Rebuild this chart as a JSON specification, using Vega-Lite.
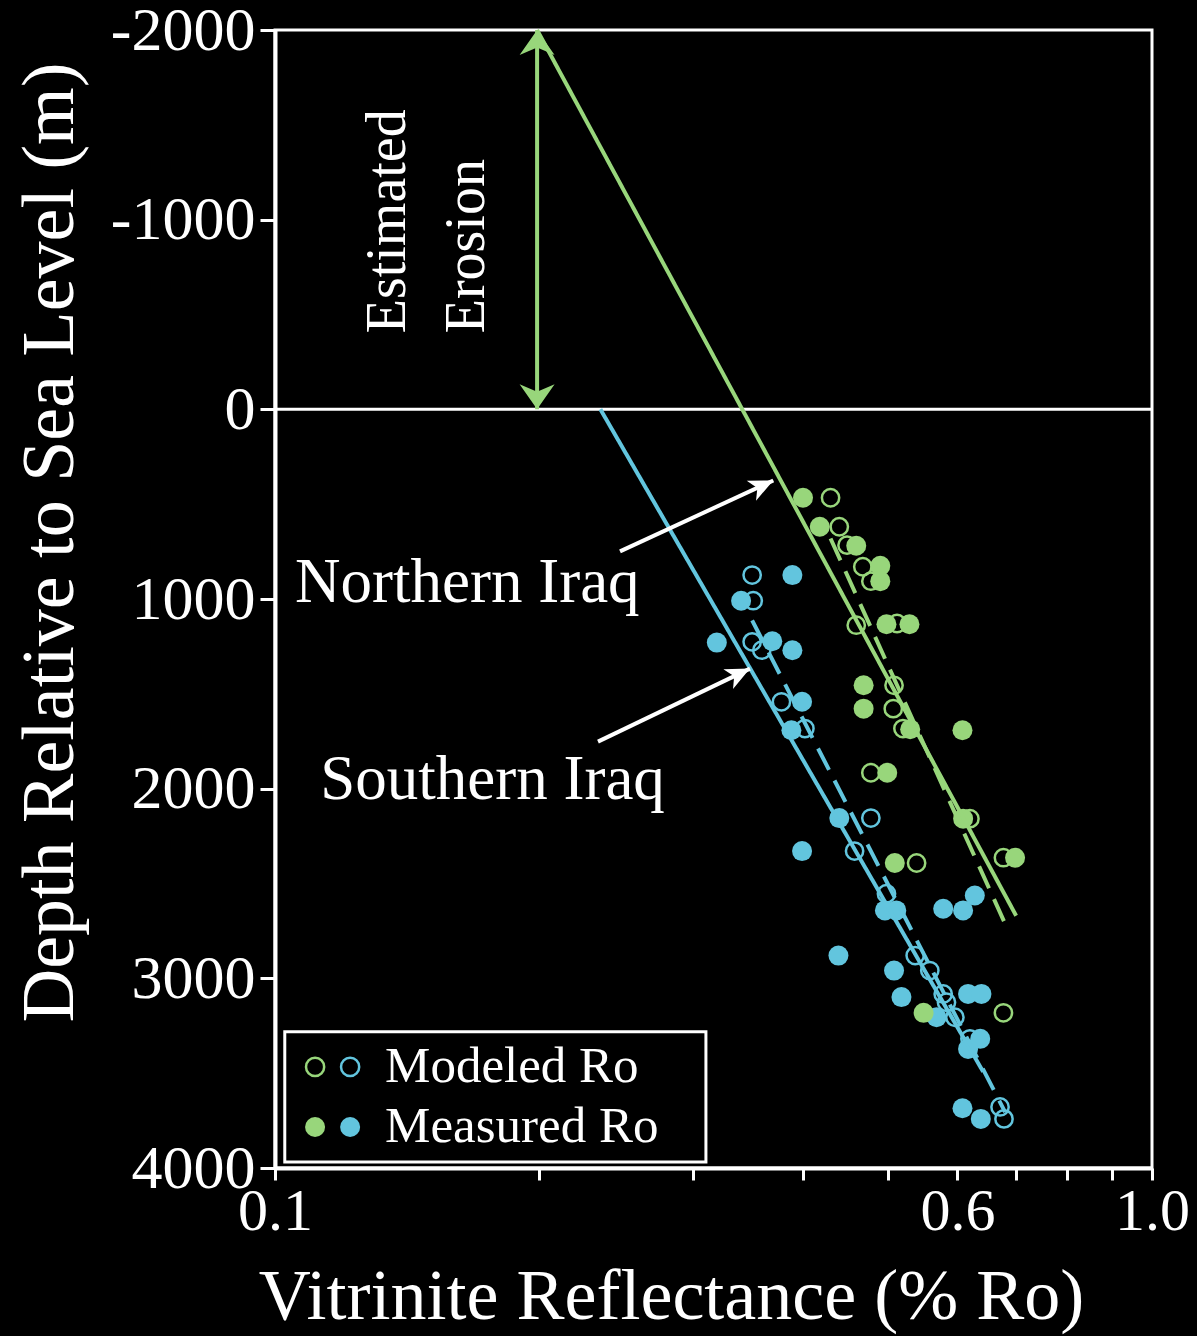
{
  "$schema": "https://vega.github.io/schema/vega-lite/v6.json",
  "width": 877,
  "height": 1138,
  "autosize": "none",
  "padding": {"left": 275, "top": 30, "right": 45, "bottom": 168},
  "background": "black",
  "config": {
    "view": {"stroke": "white", "strokeWidth": 3},
    "font": "Liberation Serif"
  },
  "datasets": {
    "points": [
      {"region": "Southern", "type": "Modeled", "ro": 0.350, "depth": 874},
      {"region": "Southern", "type": "Modeled", "ro": 0.351, "depth": 1009},
      {"region": "Southern", "type": "Modeled", "ro": 0.350, "depth": 1226},
      {"region": "Southern", "type": "Modeled", "ro": 0.359, "depth": 1270},
      {"region": "Southern", "type": "Modeled", "ro": 0.378, "depth": 1542},
      {"region": "Southern", "type": "Modeled", "ro": 0.402, "depth": 1683},
      {"region": "Southern", "type": "Modeled", "ro": 0.478, "depth": 2155},
      {"region": "Southern", "type": "Modeled", "ro": 0.458, "depth": 2329},
      {"region": "Southern", "type": "Modeled", "ro": 0.498, "depth": 2554},
      {"region": "Southern", "type": "Modeled", "ro": 0.537, "depth": 2880},
      {"region": "Southern", "type": "Modeled", "ro": 0.558, "depth": 2959},
      {"region": "Southern", "type": "Modeled", "ro": 0.578, "depth": 3082},
      {"region": "Southern", "type": "Modeled", "ro": 0.583, "depth": 3126},
      {"region": "Southern", "type": "Modeled", "ro": 0.596, "depth": 3205},
      {"region": "Southern", "type": "Modeled", "ro": 0.620, "depth": 3319},
      {"region": "Southern", "type": "Modeled", "ro": 0.671, "depth": 3678},
      {"region": "Southern", "type": "Modeled", "ro": 0.678, "depth": 3741},
      {"region": "Northern", "type": "Modeled", "ro": 0.430, "depth": 466},
      {"region": "Northern", "type": "Modeled", "ro": 0.440, "depth": 619},
      {"region": "Northern", "type": "Modeled", "ro": 0.449, "depth": 716},
      {"region": "Northern", "type": "Modeled", "ro": 0.468, "depth": 830},
      {"region": "Northern", "type": "Modeled", "ro": 0.478, "depth": 906},
      {"region": "Northern", "type": "Modeled", "ro": 0.460, "depth": 1138},
      {"region": "Northern", "type": "Modeled", "ro": 0.512, "depth": 1129},
      {"region": "Northern", "type": "Modeled", "ro": 0.508, "depth": 1455},
      {"region": "Northern", "type": "Modeled", "ro": 0.507, "depth": 1578},
      {"region": "Northern", "type": "Modeled", "ro": 0.520, "depth": 1683},
      {"region": "Northern", "type": "Modeled", "ro": 0.478, "depth": 1916},
      {"region": "Northern", "type": "Modeled", "ro": 0.620, "depth": 2158},
      {"region": "Northern", "type": "Modeled", "ro": 0.677, "depth": 2364},
      {"region": "Northern", "type": "Modeled", "ro": 0.539, "depth": 2392},
      {"region": "Northern", "type": "Modeled", "ro": 0.677, "depth": 3182},
      {"region": "Southern", "type": "Measured", "ro": 0.389, "depth": 874},
      {"region": "Southern", "type": "Measured", "ro": 0.340, "depth": 1009},
      {"region": "Southern", "type": "Measured", "ro": 0.319, "depth": 1230},
      {"region": "Southern", "type": "Measured", "ro": 0.369, "depth": 1223},
      {"region": "Southern", "type": "Measured", "ro": 0.389, "depth": 1270},
      {"region": "Southern", "type": "Measured", "ro": 0.399, "depth": 1542},
      {"region": "Southern", "type": "Measured", "ro": 0.388, "depth": 1692},
      {"region": "Southern", "type": "Measured", "ro": 0.440, "depth": 2155},
      {"region": "Southern", "type": "Measured", "ro": 0.399, "depth": 2329},
      {"region": "Southern", "type": "Measured", "ro": 0.496, "depth": 2642},
      {"region": "Southern", "type": "Measured", "ro": 0.511, "depth": 2642},
      {"region": "Southern", "type": "Measured", "ro": 0.578, "depth": 2633},
      {"region": "Southern", "type": "Measured", "ro": 0.609, "depth": 2642},
      {"region": "Southern", "type": "Measured", "ro": 0.628, "depth": 2563},
      {"region": "Southern", "type": "Measured", "ro": 0.439, "depth": 2880},
      {"region": "Southern", "type": "Measured", "ro": 0.508, "depth": 2959},
      {"region": "Southern", "type": "Measured", "ro": 0.518, "depth": 3099},
      {"region": "Southern", "type": "Measured", "ro": 0.568, "depth": 3205},
      {"region": "Southern", "type": "Measured", "ro": 0.617, "depth": 3082},
      {"region": "Southern", "type": "Measured", "ro": 0.639, "depth": 3082},
      {"region": "Southern", "type": "Measured", "ro": 0.637, "depth": 3319},
      {"region": "Southern", "type": "Measured", "ro": 0.617, "depth": 3372},
      {"region": "Southern", "type": "Measured", "ro": 0.608, "depth": 3685},
      {"region": "Southern", "type": "Measured", "ro": 0.638, "depth": 3741},
      {"region": "Northern", "type": "Measured", "ro": 0.400, "depth": 466},
      {"region": "Northern", "type": "Measured", "ro": 0.418, "depth": 619},
      {"region": "Northern", "type": "Measured", "ro": 0.460, "depth": 719},
      {"region": "Northern", "type": "Measured", "ro": 0.490, "depth": 825},
      {"region": "Northern", "type": "Measured", "ro": 0.490, "depth": 906},
      {"region": "Northern", "type": "Measured", "ro": 0.498, "depth": 1133},
      {"region": "Northern", "type": "Measured", "ro": 0.529, "depth": 1133},
      {"region": "Northern", "type": "Measured", "ro": 0.469, "depth": 1455},
      {"region": "Northern", "type": "Measured", "ro": 0.469, "depth": 1578},
      {"region": "Northern", "type": "Measured", "ro": 0.530, "depth": 1687},
      {"region": "Northern", "type": "Measured", "ro": 0.608, "depth": 1692},
      {"region": "Northern", "type": "Measured", "ro": 0.499, "depth": 1916},
      {"region": "Northern", "type": "Measured", "ro": 0.609, "depth": 2158},
      {"region": "Northern", "type": "Measured", "ro": 0.698, "depth": 2364},
      {"region": "Northern", "type": "Measured", "ro": 0.509, "depth": 2392},
      {"region": "Northern", "type": "Measured", "ro": 0.549, "depth": 3182}
    ],
    "trends": [
      {"series": "N solid", "region": "Northern", "style": "solid", "ro": 0.199, "depth": -2000},
      {"series": "N solid", "region": "Northern", "style": "solid", "ro": 0.700, "depth": 2670},
      {"series": "N dashed", "region": "Northern", "style": "dashed", "ro": 0.430, "depth": 681},
      {"series": "N dashed", "region": "Northern", "style": "dashed", "ro": 0.680, "depth": 2712},
      {"series": "S solid", "region": "Southern", "style": "solid", "ro": 0.235, "depth": 0},
      {"series": "S solid", "region": "Southern", "style": "solid", "ro": 0.642, "depth": 3493},
      {"series": "S dashed", "region": "Southern", "style": "dashed", "ro": 0.350, "depth": 1113},
      {"series": "S dashed", "region": "Southern", "style": "dashed", "ro": 0.680, "depth": 3705}
    ],
    "erosion": [
      {"end": "top", "ro": 0.199, "depth": -2000},
      {"end": "bottom", "ro": 0.199, "depth": 0}
    ],
    "pointers": [
      {"arrow": "Northern", "ro": 0.2474, "depth": 749},
      {"arrow": "Northern", "ro": 0.370, "depth": 375},
      {"arrow": "Southern", "ro": 0.2335, "depth": 1752},
      {"arrow": "Southern", "ro": 0.348, "depth": 1367}
    ],
    "legendSymbols": [
      {"region": "Northern", "type": "Modeled", "ro": 0.1111, "depth": 3467},
      {"region": "Southern", "type": "Modeled", "ro": 0.1218, "depth": 3467},
      {"region": "Northern", "type": "Measured", "ro": 0.1111, "depth": 3784},
      {"region": "Southern", "type": "Measured", "ro": 0.1218, "depth": 3784}
    ],
    "legendLabels": [
      {"label": "Modeled Ro", "ro": 0.1335, "depth": 3467},
      {"label": "Measured Ro", "ro": 0.1335, "depth": 3784}
    ]
  },
  "encoding": {
    "x": {
      "field": "ro",
      "type": "quantitative",
      "scale": {"type": "log", "domain": [0.1, 1], "nice": false},
      "axis": {
        "title": "Vitrinite Reflectance (% Ro)",
        "values": [0.1, 0.2, 0.3, 0.4, 0.5, 0.6, 0.7, 0.8, 0.9, 1.0],
        "labelExpr": "datum.value == 0.1 ? '0.1' : datum.value == 0.6 ? '0.6' : datum.value == 1 ? '1.0' : ''",
        "grid": false,
        "domainColor": "white",
        "domainWidth": 4,
        "tickColor": "white",
        "tickWidth": 3,
        "tickSize": 12,
        "labelColor": "white",
        "labelFont": "Liberation Serif",
        "labelFontSize": 60,
        "labelPadding": 2,
        "labelFlush": false,
        "labelOverlap": false,
        "titleColor": "white",
        "titleFont": "Liberation Serif",
        "titleFontSize": 72,
        "titleFontWeight": "normal",
        "titleX": 396,
        "titleY": 150,
        "titleAlign": "center",
        "titleBaseline": "alphabetic"
      }
    },
    "y": {
      "field": "depth",
      "type": "quantitative",
      "scale": {"domain": [-2000, 4000], "reverse": true, "nice": false, "zero": false},
      "axis": {
        "title": "Depth Relative to Sea Level (m)",
        "values": [-2000, -1000, 0, 1000, 2000, 3000, 4000],
        "labelExpr": "toString(datum.value)",
        "grid": false,
        "domainColor": "white",
        "domainWidth": 4,
        "tickColor": "white",
        "tickWidth": 3,
        "tickSize": 15,
        "labelColor": "white",
        "labelFont": "Liberation Serif",
        "labelFontSize": 62,
        "labelPadding": 5,
        "labelOverlap": false,
        "labelFlush": false,
        "titleColor": "white",
        "titleFont": "Liberation Serif",
        "titleFontSize": 74,
        "titleFontWeight": "normal",
        "titleAngle": -90,
        "titleX": -203,
        "titleY": 512,
        "titleAlign": "center",
        "titleBaseline": "alphabetic"
      }
    }
  },
  "layer": [
    {
      "data": {"values": [{"ro": 0.1, "ro2": 1.0, "depth": 0}]},
      "mark": {"type": "rule", "color": "white", "strokeWidth": 3},
      "encoding": {"x2": {"field": "ro2"}}
    },
    {
      "data": {"name": "points"},
      "transform": [{"filter": "datum.type == 'Modeled'"}],
      "mark": {"type": "point", "filled": false, "strokeWidth": 2.5, "size": 300, "opacity": 1},
      "encoding": {
        "color": {"field": "region", "type": "nominal", "scale": {"domain": ["Southern", "Northern"], "range": ["#62C5DE", "#98D67B"]}, "legend": null}
      }
    },
    {
      "data": {"name": "points"},
      "transform": [{"filter": "datum.type == 'Measured'"}],
      "mark": {"type": "point", "filled": true, "size": 400, "opacity": 1},
      "encoding": {
        "color": {"field": "region", "type": "nominal", "legend": null}
      }
    },
    {
      "data": {"name": "trends"},
      "mark": {"type": "line", "strokeWidth": 4},
      "encoding": {
        "detail": {"field": "series"},
        "color": {"field": "region", "type": "nominal", "legend": null},
        "strokeDash": {"field": "style", "type": "nominal", "scale": {"domain": ["solid", "dashed"], "range": [[1, 0], [24, 12]]}, "legend": null}
      }
    },
    {
      "data": {"name": "erosion"},
      "mark": {"type": "line", "strokeWidth": 4, "color": "#98D67B"},
      "encoding": {}
    },
    {
      "data": {"name": "erosion"},
      "mark": {"type": "point", "filled": true, "size": 625, "opacity": 1, "color": "#98D67B"},
      "encoding": {
        "shape": {"field": "end", "type": "nominal", "scale": {"domain": ["top", "bottom"], "range": ["M0,0L-1.4,2L0,1.4L1.4,2Z", "M0,0L-1.4,-2L0,-1.4L1.4,-2Z"]}, "legend": null}
      }
    },
    {
      "data": {"name": "pointers"},
      "mark": {"type": "line", "strokeWidth": 4, "color": "white"},
      "encoding": {"detail": {"field": "arrow"}}
    },
    {
      "data": {"name": "pointers"},
      "transform": [{"filter": "datum.arrow == 'Northern' && datum.depth < 500"}],
      "mark": {"type": "point", "filled": true, "size": 484, "opacity": 1, "color": "white", "shape": "M0,0L-1,2.2L0,1.6L1,2.2Z", "angle": 65}
    },
    {
      "data": {"name": "pointers"},
      "transform": [{"filter": "datum.arrow == 'Southern' && datum.depth < 1500"}],
      "mark": {"type": "point", "filled": true, "size": 484, "opacity": 1, "color": "white", "shape": "M0,0L-1,2.2L0,1.6L1,2.2Z", "angle": 64}
    },
    {
      "data": {"values": [
        {"label": "Northern Iraq", "ro": 0.1054, "depth": 1014},
        {"label": "Southern Iraq", "ro": 0.1126, "depth": 2053}
      ]},
      "mark": {"type": "text", "color": "white", "font": "Liberation Serif", "fontSize": 63, "align": "left", "baseline": "alphabetic"},
      "encoding": {"text": {"field": "label"}}
    },
    {
      "data": {"values": [
        {"label": "Estimated", "ro": 0.1405, "depth": -401},
        {"label": "Erosion", "ro": 0.1730, "depth": -401}
      ]},
      "mark": {"type": "text", "color": "white", "font": "Liberation Serif", "fontSize": 56, "align": "left", "baseline": "alphabetic", "angle": 270},
      "encoding": {"text": {"field": "label"}}
    },
    {
      "data": {"values": [{"ro": 0.1026, "ro2": 0.310, "depth": 3282, "depth2": 3968}]},
      "mark": {"type": "rect", "fill": "black", "stroke": "white", "strokeWidth": 3},
      "encoding": {"x2": {"field": "ro2"}, "y2": {"field": "depth2"}}
    },
    {
      "data": {"name": "legendSymbols"},
      "transform": [{"filter": "datum.type == 'Modeled'"}],
      "mark": {"type": "point", "filled": false, "strokeWidth": 2.5, "size": 330, "opacity": 1},
      "encoding": {"color": {"field": "region", "type": "nominal", "legend": null}}
    },
    {
      "data": {"name": "legendSymbols"},
      "transform": [{"filter": "datum.type == 'Measured'"}],
      "mark": {"type": "point", "filled": true, "size": 400, "opacity": 1},
      "encoding": {"color": {"field": "region", "type": "nominal", "legend": null}}
    },
    {
      "data": {"name": "legendLabels"},
      "mark": {"type": "text", "color": "white", "font": "Liberation Serif", "fontSize": 51, "align": "left", "baseline": "middle"},
      "encoding": {"text": {"field": "label"}}
    }
  ]
}
